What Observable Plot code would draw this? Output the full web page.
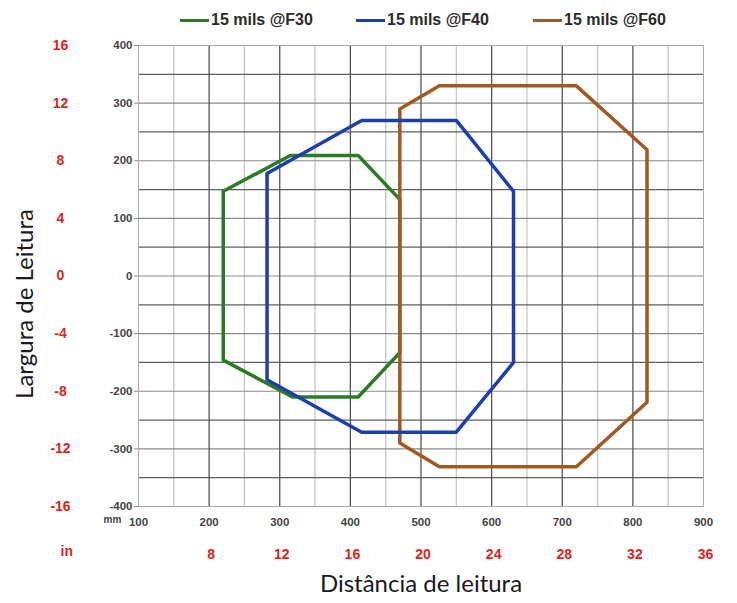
<!DOCTYPE html>
<html><head><meta charset="utf-8">
<script src="https://cdn.jsdelivr.net/npm/d3@7"></script>
<script src="https://cdn.jsdelivr.net/npm/@observablehq/plot@0.6"></script>
<style>
body{margin:0;background:#fff;}
#wrap{position:relative;width:737px;height:603px;overflow:hidden;background:#fff}
.leg{position:absolute;top:11px;font:bold 16px "Liberation Sans",Arial,sans-serif;color:#2a2a2a;white-space:nowrap;display:flex;align-items:center;height:18px}
.leg i{display:inline-block;width:29px;height:3px;margin-right:2px}
</style></head><body><div id="wrap"></div>
<script>
// Series
const series = ["15 mils @F30", "15 mils @F40", "15 mils @F60"];
const colors = ["#2b7a25", "#1c3fae", "#a3581f"];

// Reading distance (mm) and reading width (mm) for each field
const f30Dist  = [220, 315, 411, 470, 470, 411, 318, 220, 220];
const f30Width = [147, 209, 209, 133, -133, -210, -210, -146, 147];
const f40Dist  = [282, 416, 550, 631, 631, 550, 416, 282, 282];
const f40Width = [178, 270, 270, 147, -150, -271, -271, -180, 178];
const f60Dist  = [470, 526, 720, 820, 820, 720, 526, 470, 470];
const f60Width = [290, 330, 330, 219, -219, -331, -331, -290, 290];

// Ticks and labels
const xTicks = [100, 200, 300, 400, 500, 600, 700, 800, 900];
const xInchTicks = [200, 300, 400, 500, 600, 700, 800, 900];
const xInchLabels = ["8", "12", "16", "20", "24", "28", "32", "36"];
const yTicks = [400, 300, 200, 100, 0, -100, -200, -300, -400];
const yInchLabels = ["16", "12", "8", "4", "0", "-4", "-8", "-12", "-16"];
const xMinor = [150, 250, 350, 450, 550, 650, 750, 850];
const xMajor = [200, 300, 400, 500, 600, 700, 800];
const yMinor = [350, 250, 150, 50, -50, -150, -250, -350];
const yMajor = [300, 200, 100, 0, -100, -200, -300];

const xTitle = "Distância de leitura";
const yTitle = "Largura de Leitura";

const build = (name, xs, ys) => xs.map((d, i) => ({series: name, dist: d, width: ys[i]}));
const rows = [
  ...build(series[0], f30Dist, f30Width),
  ...build(series[2], f60Dist, f60Width),
  ...build(series[1], f40Dist, f40Width)
];

const red = "#d9261c";
const font = "Liberation Sans, Arial, sans-serif";

const chart = Plot.plot({
  width: 737, height: 603,
  marginLeft: 138, marginRight: 34, marginTop: 45, marginBottom: 97,
  style: {background: "#fff", fontFamily: font},
  x: {domain: [100, 900]},
  y: {domain: [-400, 400]},
  color: {domain: series, range: colors},
  marks: [
    Plot.ruleX(xMinor, {stroke: "#c6c6c6", strokeWidth: 1.3}),
    Plot.ruleY(yMajor, {stroke: "#8a8a8a", strokeWidth: 1.2}),
    Plot.ruleY(yMinor, {stroke: "#5e5e5e", strokeWidth: 1.3}),
    Plot.ruleX(xMajor, {stroke: "#555", strokeWidth: 1.3}),
    Plot.frame({stroke: "#aaa"}),
    Plot.axisY(yTicks, {anchor: "left", tickSize: 4, tickPadding: 2, tickFormat: d => String(d),
      fontWeight: "bold", fontSize: 11.5, fill: "#444", stroke: "#888", label: null}),
    Plot.axisY(yTicks, {anchor: "left", tickSize: 0, tickPadding: 78, textAnchor: "middle",
      tickFormat: (d, i) => yInchLabels[i], fontWeight: "bold", fontSize: 14, fill: red, label: null}),
    Plot.axisX(xTicks, {anchor: "bottom", tickSize: 0, tickPadding: 11, tickFormat: d => String(d),
      fontWeight: "bold", fontSize: 11.5, fill: "#444", label: null}),
    Plot.axisX(xInchTicks, {anchor: "bottom", tickSize: 0, tickPadding: 43, tickFormat: (d, i) => xInchLabels[i],
      fontWeight: "bold", fontSize: 14, fill: red, label: null, dx: 2}),
    Plot.text(["mm"], {text: d => d, frameAnchor: "bottom-left", dx: -35, dy: 16, fontSize: 10, fontWeight: "bold", fill: "#444"}),
    Plot.text(["in"], {text: d => d, frameAnchor: "bottom-left", dx: -78, dy: 49, fontSize: 14, fontWeight: "bold", fill: red}),
    Plot.line(rows, {x: "dist", y: "width", z: "series", stroke: "series", strokeWidth: 3.5, strokeLinejoin: "round"}),
    Plot.text([yTitle], {text: d => d, frameAnchor: "left", textAnchor: "middle", dx: -113, dy: 28, rotate: -90,
      fontSize: 24, fontWeight: 400, fontFamily: "Lato", fill: "#1a1a1a"}),
    Plot.text([xTitle], {text: d => d, frameAnchor: "bottom", textAnchor: "middle", dy: 85,
      fontSize: 24, fontWeight: 400, fontFamily: "Lato", fill: "#1a1a1a"})
  ]
});

const wrap = document.getElementById("wrap");
wrap.appendChild(chart);

// Legend
const legLeft = [180, 356, 533];
series.forEach((s, i) => {
  const d = document.createElement("div");
  d.className = "leg";
  d.style.left = legLeft[i] + "px";
  const sw = document.createElement("i");
  sw.style.background = colors[i];
  d.appendChild(sw);
  d.appendChild(document.createTextNode(s));
  wrap.appendChild(d);
});
</script></body></html>
